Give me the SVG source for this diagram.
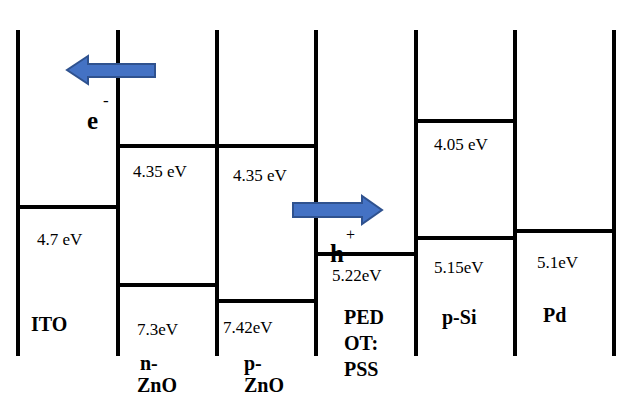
<svg xmlns="http://www.w3.org/2000/svg" width="631" height="409" viewBox="0 0 631 409">
<style>
.l{stroke:#000;stroke-width:4;fill:none}
.t{font-family:'Liberation Serif','Times New Roman','DejaVu Serif',serif;font-size:17px;fill:#000}
.b{font-family:'Liberation Serif','Times New Roman','DejaVu Serif',serif;font-size:20px;font-weight:bold;fill:#000}
.a{fill:#4472c4;stroke:#2f528f;stroke-width:2}
</style>
<rect width="631" height="409" fill="#fff"/>
<g id="connectors">
<path class="l" d="M18 30V356M118 30V356M217 30V356M316 30V356M416 30V356M515 30V356M614 30V356"/>
<path class="l" d="M18 207H118M118 146H217M118 285H217M217 146H316M217 301H316M316 254H416M416 121H515M416 238H515M515 231H614"/>
</g>
<g id="ITO"><text class="t" x="37" y="245">4.7 eV</text><text class="b" x="31" y="331">ITO</text></g>
<g id="nZnO"><text class="t" x="133" y="177">4.35 eV</text><text class="t" x="137" y="335">7.3eV</text><text class="b" x="140" y="370">n-</text><text class="b" x="137" y="392">ZnO</text></g>
<g id="pZnO"><text class="t" x="233" y="181">4.35 eV</text><text class="t" x="223" y="333">7.42eV</text><text class="b" x="244" y="370">p-</text><text class="b" x="244" y="392">ZnO</text></g>
<g id="PEDOT"><text class="t" x="332" y="281">5.22eV</text><text class="b" x="344" y="324">PED</text><text class="b" x="344" y="350">OT:</text><text class="b" x="344" y="376">PSS</text></g>
<g id="pSi"><text class="t" x="434" y="150">4.05 eV</text><text class="t" x="434" y="273">5.15eV</text><text class="b" x="442" y="324">p-Si</text></g>
<g id="Pd"><text class="t" x="537" y="268">5.1eV</text><text class="b" x="543" y="322">Pd</text></g>
<g id="electron"><path class="a" d="M155 64H88V56L67 70L88 84V77H155Z"/><text class="b" x="87" y="129" style="font-size:25px">e</text><text class="t" x="103" y="106">-</text></g>
<g id="hole"><path class="a" d="M293 203H362V196L382 210L362 224V217H293Z"/><text class="b" x="330" y="262" style="font-size:25px">h</text><text class="t" x="346" y="240" style="font-size:16px">+</text></g>
</svg>
